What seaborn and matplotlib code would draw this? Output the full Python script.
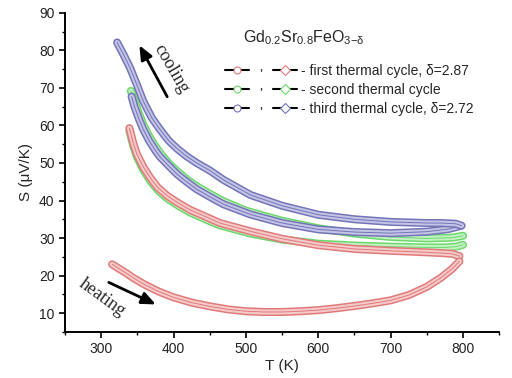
import matplotlib
matplotlib.use("Agg")
import matplotlib.pyplot as plt
import matplotlib.patheffects as pe
import seaborn as sns
import pandas as pd
from matplotlib.lines import Line2D
from matplotlib.legend_handler import HandlerTuple
from matplotlib.ticker import MultipleLocator

# ---- data ----
T_heat1 = [315, 325, 335, 345, 360, 380, 400, 425, 450, 475, 500, 525, 550, 575, 600, 625, 650, 675, 700, 725, 750, 770, 785, 795]
S_heat1 = [23.0, 21.8, 20.6, 19.3, 17.6, 15.7, 14.2, 12.8, 11.8, 11.0, 10.5, 10.3, 10.3, 10.5, 10.8, 11.3, 11.9, 12.6, 13.4, 14.8, 17.0, 19.5, 21.8, 23.8]

T_cool1 = [795, 785, 770, 750, 700, 650, 600, 550, 506, 464, 450, 423, 405, 391, 378, 368, 358, 349, 344, 339]
S_cool1 = [25.2, 25.8, 26.0, 26.2, 26.6, 27.1, 28.1, 29.8, 31.8, 34.0, 35.2, 37.5, 39.5, 41.3, 43.5, 46.0, 49.0, 52.5, 55.5, 59.3]

T_heat2 = [341, 346, 352, 358, 366, 375, 385, 395, 405, 420, 432, 450, 469, 500, 550, 600, 650, 700, 750, 785, 800]
S_heat2 = [69.2, 66.5, 63.3, 60.3, 57.2, 54.4, 51.8, 49.6, 47.8, 45.4, 43.8, 41.8, 39.8, 37.3, 34.6, 32.6, 31.2, 30.3, 29.9, 30.1, 30.6]

T_cool2 = [800, 790, 775, 750, 700, 650, 600, 550, 506, 464, 450, 423, 405, 391, 378, 368, 358, 349, 344, 339]
S_cool2 = [28.2, 27.7, 27.5, 27.5, 27.7, 28.0, 28.5, 29.6, 31.2, 33.4, 34.5, 36.8, 38.8, 40.6, 42.8, 45.2, 48.2, 51.8, 54.8, 58.6]

T_heat3 = [342, 346, 352, 358, 366, 375, 381, 393, 405, 418, 432, 450, 469, 506, 550, 600, 650, 700, 750, 780, 796]
S_heat3 = [67.7, 65.0, 61.8, 59.0, 56.0, 53.3, 51.7, 49.3, 47.0, 45.0, 43.0, 41.0, 39.0, 36.3, 34.0, 32.3, 31.6, 31.3, 31.7, 32.4, 33.2]

T_cool3 = [798, 790, 770, 750, 700, 650, 600, 550, 506, 469, 450, 432, 418, 405, 393, 381, 370, 358, 350, 340, 331, 322]
S_cool3 = [33.3, 33.8, 34.0, 34.0, 34.3, 35.0, 36.2, 38.6, 41.5, 45.5, 48.0, 50.0, 51.8, 53.8, 56.0, 59.0, 62.0, 66.5, 70.5, 75.3, 78.8, 82.1]

cycle_labels = ["- first thermal cycle, \u03b4=2.87",
                "- second thermal cycle",
                "- third thermal cycle, \u03b4=2.72"]
title_text = r"Gd$_{0.2}$Sr$_{0.8}$FeO$_{3\mathrm{-}\delta}$"

RED, RED_L = "#e07a7a", "#f6caca"
GREEN, GREEN_L = "#6cd86c", "#c4f2c4"
BLUE, BLUE_L = "#7474b8", "#c4c4e6"

sns.set_theme(style="ticks")
plt.rcParams["font.family"] = ["Liberation Sans", "DejaVu Sans"]
plt.rcParams["mathtext.fontset"] = "custom"
plt.rcParams["mathtext.rm"] = "Liberation Sans"
plt.rcParams["mathtext.it"] = "Liberation Sans"

fig = plt.figure(figsize=(5.12, 3.78), dpi=100)
ax = fig.add_axes([0.127, 0.122, 0.848, 0.844])

series = [
    (T_cool2, S_cool2, GREEN, GREEN_L),
    (T_cool1, S_cool1, RED, RED_L),
    (T_heat1, S_heat1, RED, RED_L),
    (T_heat2, S_heat2, GREEN, GREEN_L),
    (T_heat3, S_heat3, BLUE, BLUE_L),
    (T_cool3, S_cool3, BLUE, BLUE_L),
]
for T, S, c, cl in series:
    df = pd.DataFrame({"T": T, "S": S})
    sns.lineplot(data=df, x="T", y="S", sort=False, ax=ax, color=c, lw=0.7,
                 path_effects=[pe.Stroke(linewidth=5.8, foreground=c, capstyle="round", joinstyle="round"),
                               pe.Stroke(linewidth=3.6, foreground=cl, capstyle="round", joinstyle="round"),
                               pe.Normal()])

ax.set_xlim(250, 850)
ax.set_ylim(5, 90)
ax.xaxis.set_major_locator(MultipleLocator(100))
ax.xaxis.set_minor_locator(MultipleLocator(50))
ax.yaxis.set_major_locator(MultipleLocator(10))
ax.yaxis.set_minor_locator(MultipleLocator(5))
ax.tick_params(which="major", direction="out", length=4, width=1.2, labelsize=10, color="black", labelcolor="#222222")
ax.tick_params(which="minor", direction="out", length=2.5, width=1.0, color="black")
for s in ["top", "right"]:
    ax.spines[s].set_visible(False)
for s in ["left", "bottom"]:
    ax.spines[s].set_linewidth(1.4)
    ax.spines[s].set_color("black")
ax.set_xlabel("T (K)", fontsize=11, labelpad=2)
ax.set_ylabel("S (\u03bcV/K)", fontsize=11, labelpad=4)

ax.text(580, 83.5, title_text, fontsize=11.5, ha="center", va="center")

# annotations
ax.annotate("", xy=(351, 82.0), xytext=(393, 67.0),
            arrowprops=dict(arrowstyle="-|>,head_length=0.7,head_width=0.3", lw=2.0, color="black"))
ax.text(397, 75.0, "cooling", family="Liberation Serif", fontsize=13, rotation=-60,
        ha="center", va="center")
ax.annotate("", xy=(379, 12.0), xytext=(307, 18.5),
            arrowprops=dict(arrowstyle="-|>,head_length=0.7,head_width=0.3", lw=2.0, color="black"))
ax.text(301, 14.0, "heating", family="Liberation Serif", fontsize=13, rotation=-36,
        ha="center", va="center")

# legend
def h(c, m):
    return Line2D([], [], color="black", lw=1.5, marker=m, markersize=5,
                  markerfacecolor="white", markeredgecolor=c, markeredgewidth=0.8)

def comma():
    return Line2D([], [], lw=0, marker="$,$", markersize=1.8, color="#333333",
                  markeredgewidth=0.3)

handles = [(h(RED, "o"), comma(), h(RED, "D")),
           (h(GREEN, "o"), comma(), h(GREEN, "D")),
           (h(BLUE, "o"), comma(), h(BLUE, "D"))]
ax.legend(handles, cycle_labels, handler_map={tuple: HandlerTuple(ndivide=None, pad=0.0)},
          loc="upper left", bbox_to_anchor=(0.345, 0.87), frameon=False, fontsize=10,
          handlelength=5.2, handletextpad=0.3, labelspacing=0.35, borderpad=0.2)

fig.savefig("out.png", dpi=100)
